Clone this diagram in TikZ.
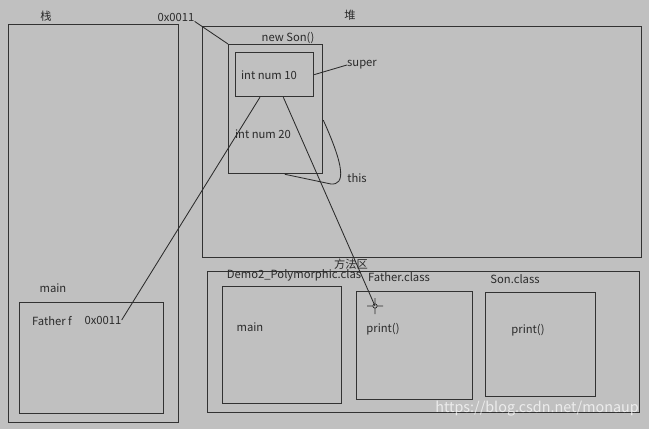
\documentclass[tikz,border=0pt]{standalone}
\usepackage{fontspec}
\setmainfont{Noto Sans CJK SC}
\usetikzlibrary{backgrounds}

\definecolor{paper}{HTML}{C0C0C0}
\definecolor{frame}{HTML}{323232}
\definecolor{ink}{HTML}{2A2A2A}

\newlength\px
\setlength\px{0.025cm}

\begin{document}
\begin{tikzpicture}[x=\px,y=-\px,
  every node/.append style={text=ink,font=\fontsize{8}{9}\selectfont,inner sep=0pt},
  area/.style={draw=frame,line width=0.9pt,anchor=north west},
  link/.style={draw=ink,line width=0.6pt}]

  \useasboundingbox [fill=paper] (0,0) rectangle (649,429);

  % Stack: the main frame and its reference

  \begin{scope}
    \node [area,minimum width=170\px,minimum height=398\px] at (8,24) (stack) {};
    \node at (46,16) (stacklbl) {栈};
    \node at (53,288) (mainlbl) {main};
    \node [area,minimum width=144\px,minimum height=111\px] at (19,302) (mainframe) {};
    \node at (52,321) (fvar) {Father f};
    \node at (103,320) (fref) {0x0011};
  \end{scope}

  % Heap: the Son object with its Father part inside

  \begin{scope}
    \node [area,minimum width=439\px,minimum height=231\px] at (202,26) (heap) {};
    \node at (350,15) (heaplbl) {堆};
    \node at (176,17) (addr) {0x0011};
    \node at (288,38) (sonlbl) {new Son()};
    \node [area,minimum width=94\px,minimum height=129\px] at (228,44) (son) {};
    \node [area,minimum width=78\px,minimum height=44\px] at (235,52) (fatherpart) {};
    \node at (269,75) (num10) {int num 10};
    \node at (263,134) (num20) {int num 20};
    \node at (362,65) (super) {super};
    \node at (357,178) (this) {this};
  \end{scope}

  % Method area: the three class files

  \begin{scope}
    \node at (351,264) (methodlbl) {方法区};
    \node [area,minimum width=432\px,minimum height=141\px] at (207,271) (method) {};
    \node at (294,275) (demolbl) {Demo2\_Polymorphic.clas};
    \node [area,minimum width=119\px,minimum height=117\px] at (222,286) (demo) {};
    \node at (250,327) (demomain) {main};
    \node at (399,277) (fatherlbl) {Father.class};
    \node [area,minimum width=116\px,minimum height=108\px] at (356,291) (fclass) {};
    \node at (383,329) (fprint) {print()};
    \node at (515,279) (sonclslbl) {Son.class};
    \node [area,minimum width=110\px,minimum height=104\px] at (485,292) (sclass) {};
    \node at (528,330) (sprint) {print()};
  \end{scope}

  \coordinate (cursor) at (375,306);

  % Connectors

  \draw [link] (addr.south east) -- (son.north west);
  \draw [link] (fatherpart.east) -- (super.west);
  \draw [link] (son.-13) .. controls (345,168) and (345,185) .. (331,184) -- (son.-82);
  \draw [link] (fatherpart.237) -- (fref.east);
  \draw [link] (fatherpart.291) -- (cursor);

  % cursor mark left on the screenshot
  \draw [ink,line width=0.5pt] (cursor) circle [radius=1.5pt]
    (cursor) ++(-8,0) -- ++(6,0) (cursor) ++(2,0) -- ++(6,0)
    (cursor) ++(0,-8) -- ++(0,6) (cursor) ++(0,2) -- ++(0,6);

  \node [text=white,opacity=0.7,font=\fontsize{10.2}{12}\selectfont] at (537,409) (mark) {https://blog.csdn.net/monaup};

\end{tikzpicture}
\end{document}
